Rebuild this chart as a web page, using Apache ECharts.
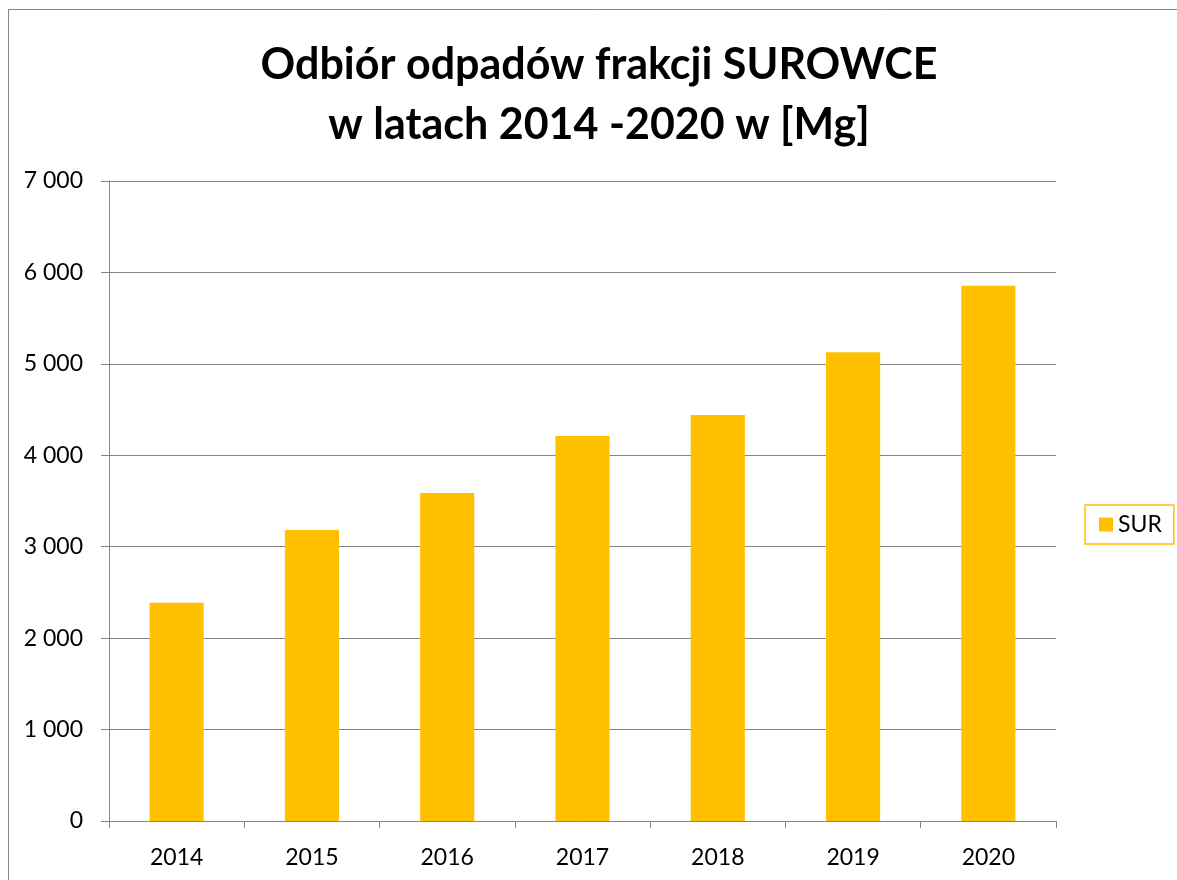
<!DOCTYPE html>
<html>
<head>
<meta charset="utf-8">
<script src="https://cdn.jsdelivr.net/npm/echarts@6/dist/echarts.min.js"></script>
<style>
  html, body { margin: 0; padding: 0; background: #fff; }
  #chart { width: 1177px; height: 880px; }
</style>
</head>
<body>
<div id="chart"></div>
<script>
// dane
const years = ['2014', '2015', '2016', '2017', '2018', '2019', '2020'];
const surValues = [2388, 3183, 3587, 4211, 4440, 5126, 5855];
const seriesName = 'SUR';
const titleText = 'Odbiór odpadów frakcji SUROWCE\nw latach 2014 -2020 w [Mg]';

const fontFam = 'Lato, "Open Sans", sans-serif';
const fmt = v => String(v).replace(/\B(?=(\d{3})+(?!\d))/g, ' ');

const chart = echarts.init(document.getElementById('chart'));
chart.setOption({
  animation: false,
  backgroundColor: '#fff',
  title: {
    text: titleText,
    left: 594,
    top: 30,
    textAlign: 'center',
    padding: 5,
    textStyle: {
      fontFamily: fontFam,
      fontSize: 43,
      fontWeight: 'bold',
      color: '#000',
      lineHeight: 60
    }
  },
  graphic: [{
    type: 'rect',
    shape: { x: 8.5, y: 9.5, width: 1300, height: 1000 },
    style: { fill: 'none', stroke: '#868686', lineWidth: 1 },
    silent: true
  }],
  legend: {
    data: [seriesName],
    left: 1085,
    top: 505,
    orient: 'vertical',
    icon: 'rect',
    itemWidth: 14,
    itemHeight: 14,
    itemGap: 6,
    padding: [8, 12, 8, 14],
    borderColor: '#FFC000',
    borderWidth: 1.5,
    textStyle: { fontFamily: fontFam, fontSize: 23, color: '#000' }
  },
  grid: {
    left: 109,
    right: 121,
    top: 181,
    bottom: 59
  },
  xAxis: {
    type: 'category',
    data: years,
    axisLine: { lineStyle: { color: '#868686', width: 1 } },
    axisTick: { show: true, alignWithLabel: false, length: 7, lineStyle: { color: '#868686' } },
    axisLabel: { fontFamily: fontFam, fontSize: 23, color: '#000', margin: 25 }
  },
  yAxis: {
    type: 'value',
    min: 0,
    max: 7000,
    interval: 1000,
    axisLine: { show: true, lineStyle: { color: '#868686', width: 1 } },
    axisTick: { show: true, length: 8, lineStyle: { color: '#868686' } },
    splitLine: { lineStyle: { color: '#868686', width: 1 } },
    axisLabel: { fontFamily: fontFam, fontSize: 23, color: '#000', margin: 26, formatter: fmt }
  },
  series: [{
    name: seriesName,
    type: 'bar',
    data: surValues,
    barWidth: '40%',
    itemStyle: { color: '#FFC000' }
  }]
});
</script>
</body>
</html>
